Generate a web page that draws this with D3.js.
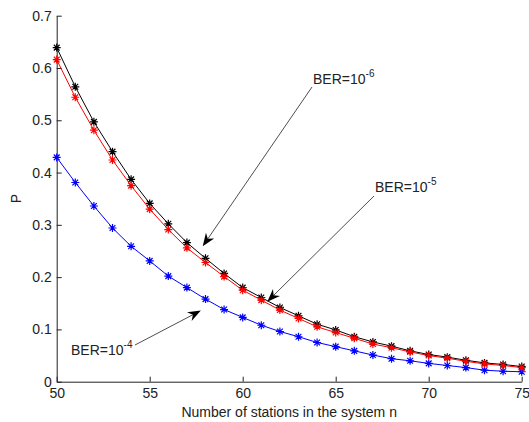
<!DOCTYPE html>
<html>
<head>
<meta charset="utf-8">
<script src="https://cdn.jsdelivr.net/npm/d3@7"></script>
<style>
  body { margin: 0; background: #fff; }
  svg text { font-family: "Liberation Sans", Arial, sans-serif; fill: #222; }
</style>
</head>
<body>
<svg id="chart" width="529" height="422"></svg>
<script>
// number of stations
var stations = d3.range(50, 76);
var xTicks = [50, 55, 60, 65, 70, 75];
var yTicks = [0, 0.1, 0.2, 0.3, 0.4, 0.5, 0.6, 0.7];

// P for each BER
var ber6 = [0.639, 0.564, 0.497, 0.440, 0.387, 0.341, 0.302, 0.266, 0.236, 0.207,
            0.180, 0.161, 0.142, 0.126, 0.110, 0.099, 0.086, 0.076, 0.068, 0.059,
            0.052, 0.047, 0.041, 0.036, 0.033, 0.029];
var ber5 = [0.616, 0.544, 0.481, 0.424, 0.375, 0.330, 0.291, 0.256, 0.228, 0.201,
            0.175, 0.156, 0.137, 0.121, 0.105, 0.094, 0.083, 0.072, 0.065, 0.057,
            0.050, 0.045, 0.039, 0.034, 0.031, 0.027];
var ber4 = [0.429, 0.381, 0.336, 0.294, 0.259, 0.231, 0.202, 0.180, 0.158, 0.138,
            0.123, 0.108, 0.096, 0.086, 0.075, 0.067, 0.059, 0.051, 0.044, 0.040,
            0.035, 0.031, 0.027, 0.022, 0.020, 0.019];

var series = [
  { values: ber4, color: "#0000ff" },
  { values: ber6, color: "#000000" },
  { values: ber5, color: "#ff0000" }
];

// annotations: exponent, text position, arrow start (px), arrow tip (data coords)
var notes = [
  { exp: "-6", tx: 313, ty: 84, from: [312, 87], to: [57.85, 0.259] },
  { exp: "-5", tx: 375, ty: 192, from: [374, 196], to: [61.32, 0.153] },
  { exp: "-4", tx: 71, ty: 355, from: [135, 345], to: [57.75, 0.136] }
];

var svg = d3.select("#chart");

var x = d3.scaleLinear().domain([50, 75]).range([56.7, 521.7]);
var y = d3.scaleLinear().domain([0, 0.7]).range([381.7, 15.7]);

// axes, ticks pointing inward
var xAxis = d3.axisBottom(x).tickValues(xTicks).tickSize(-5).tickPadding(6).tickSizeOuter(0);
var yAxis = d3.axisLeft(y).tickValues(yTicks).tickSize(-5).tickPadding(5).tickSizeOuter(0)
  .tickFormat(function(d) { return d === 0 ? "0" : d3.format(".1f")(d); });

var gx = svg.append("g").attr("transform", "translate(0," + y(0) + ")").call(xAxis);
var gy = svg.append("g").attr("transform", "translate(" + x(50) + ",0)").call(yAxis);

[gx, gy].forEach(function(g) {
  g.selectAll("path, line").attr("stroke", "#222").attr("stroke-width", 1);
  g.selectAll("text").style("font-size", "14px").attr("fill", "#222");
});

svg.append("text")
  .attr("x", (x(50) + x(75)) / 2)
  .attr("y", 417)
  .attr("text-anchor", "middle")
  .style("font-size", "14px")
  .text("Number of stations in the system n");

svg.append("text")
  .attr("transform", "translate(21," + y(0.35) + ") rotate(-90)")
  .attr("text-anchor", "middle")
  .style("font-size", "14px")
  .text("P");

var line = d3.line()
  .x(function(d, i) { return x(stations[i]); })
  .y(function(d) { return y(d); });

// asterisk marker like matlab's '*'
function star(r) {
  var k = r * 0.72;
  return "M" + -r + ",0L" + r + ",0M0," + -r + "L0," + r +
         "M" + -k + "," + -k + "L" + k + "," + k + "M" + -k + "," + k + "L" + k + "," + -k;
}

series.forEach(function(s) {
  svg.append("path")
    .datum(s.values)
    .attr("d", line)
    .attr("fill", "none")
    .attr("stroke", s.color)
    .attr("stroke-width", 1);

  svg.append("g").selectAll("path")
    .data(s.values)
    .enter()
    .append("path")
    .attr("transform", function(d, i) { return "translate(" + x(stations[i]) + "," + y(d) + ")"; })
    .attr("d", star(4))
    .attr("fill", "none")
    .attr("stroke", s.color)
    .attr("stroke-width", 1.2);
});

// annotations with filled arrowheads
notes.forEach(function(n) {
  var x1 = n.from[0], y1 = n.from[1];
  var x2 = x(n.to[0]), y2 = y(n.to[1]);
  var ang = Math.atan2(y2 - y1, x2 - x1);
  var len = 13, half = 5, notch = 9;
  var bx = x2 - len * Math.cos(ang), by = y2 - len * Math.sin(ang);
  var nx = x2 - notch * Math.cos(ang), ny = y2 - notch * Math.sin(ang);
  var px = -Math.sin(ang) * half, py = Math.cos(ang) * half;

  svg.append("line")
    .attr("x1", x1).attr("y1", y1)
    .attr("x2", nx).attr("y2", ny)
    .attr("stroke", "#222")
    .attr("stroke-width", 0.8);

  svg.append("path")
    .attr("d", "M" + x2 + "," + y2 + "L" + (bx + px) + "," + (by + py) +
               "L" + nx + "," + ny + "L" + (bx - px) + "," + (by - py) + "Z")
    .attr("fill", "#000");

  var t = svg.append("text")
    .attr("x", n.tx)
    .attr("y", n.ty)
    .style("font-size", "14px");
  t.append("tspan").text("BER=10");
  t.append("tspan").attr("dy", -7).style("font-size", "10px").text(n.exp);
});
</script>
</body>
</html>
